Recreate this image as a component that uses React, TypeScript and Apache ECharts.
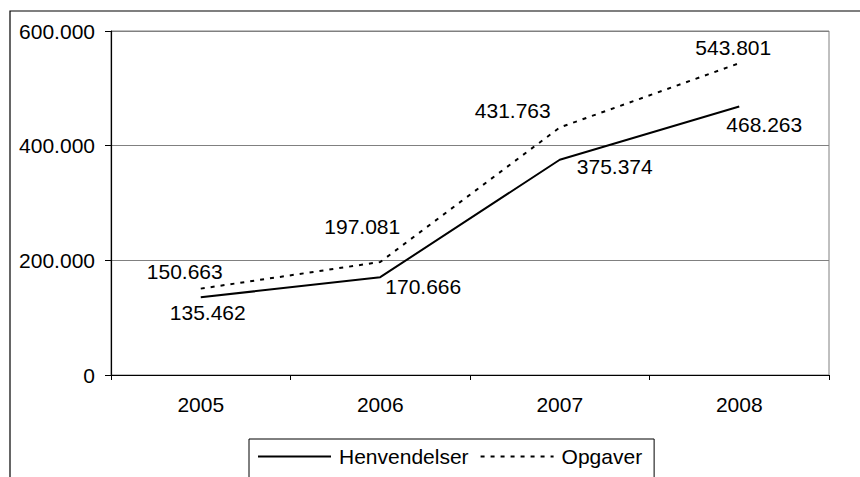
import React, { useEffect, useRef } from "react";
import * as echarts from "echarts";

const years = ["2005", "2006", "2007", "2008"];
const henvendelser = [135462, 170666, 375374, 468263];
const opgaver = [150663, 197081, 431763, 543801];
const yTicks = [0, 200000, 400000, 600000];
// label offsets (px) relative to each point
const henvOffsets = [[7, 15], [43, 9], [55, 7], [25, 18]];
const opgOffsets = [[-16, -17], [-18, -36], [-47, -17], [-6, -16]];

const FONT = "'Liberation Sans', Arial, sans-serif";
const FS = 21;

function fmt(v: number): string {
  const s = Math.round(v).toString();
  return s.replace(/\B(?=(\d{3})+(?!\d))/g, ".");
}

export default function App() {
  const ref = useRef<HTMLDivElement>(null);
  useEffect(() => {
    if (!ref.current) return;
    const chart = echarts.init(ref.current, null, { renderer: "svg" });
    const mkData = (vals: number[], offs: number[][]) =>
      vals.map((v, i) => ({
        value: v,
        label: {
          show: true,
          position: "inside",
          offset: offs[i],
          formatter: () => fmt(v),
          color: "#000",
          fontFamily: FONT,
          fontSize: FS,
        },
      }));
    chart.setOption({
      animation: false,
      backgroundColor: "#fff",
      textStyle: { fontFamily: FONT, color: "#000" },
      graphic: [
        {
          type: "rect",
          shape: { x: 10, y: 11, width: 900, height: 520 },
          style: { fill: "none", stroke: "#000", lineWidth: 1.2 },
          silent: true,
          z: -1,
        },
      ],
      grid: {
        left: 111,
        top: 31,
        right: 31,
        bottom: 102,
        show: true,
        borderColor: "#808080",
        borderWidth: 1,
        backgroundColor: "transparent",
      },
      legend: {
        left: 249,
        top: 439,
        orient: "horizontal",
        borderColor: "#000",
        borderWidth: 1,
        padding: [7, 12, 30, 8],
        itemWidth: 73,
        itemHeight: 14,
        itemGap: 11,
        textStyle: {
          fontFamily: FONT,
          fontSize: FS,
          color: "#000",
          padding: [0, 0, 0, 3],
        },
        data: ["Henvendelser", "Opgaver"],
      },
      xAxis: {
        type: "category",
        data: years,
        boundaryGap: true,
        axisLine: { lineStyle: { color: "#000", width: 1.2 } },
        axisTick: { show: true, length: 5, inside: false, alignWithLabel: false, lineStyle: { color: "#000" } },
        axisLabel: { fontFamily: FONT, fontSize: FS, color: "#000", margin: 19 },
        splitLine: { show: false },
      },
      yAxis: {
        type: "value",
        min: yTicks[0],
        max: yTicks[yTicks.length - 1],
        interval: yTicks[1] - yTicks[0],
        axisLine: { show: true, lineStyle: { color: "#000", width: 1.2 } },
        axisTick: { show: true, length: 6, lineStyle: { color: "#000" } },
        axisLabel: {
          fontFamily: FONT,
          fontSize: FS,
          color: "#000",
          margin: 16,
          formatter: (v: number) => fmt(v),
        },
        splitLine: { show: true, lineStyle: { color: "#808080", width: 1 } },
      },
      series: [
        {
          name: "Henvendelser",
          type: "line",
          data: mkData(henvendelser, henvOffsets),
          symbol: "circle",
          symbolSize: 1,
          showSymbol: true,
          itemStyle: { color: "rgba(0,0,0,0)" },
          lineStyle: { color: "#000", width: 2, type: "solid" },
          z: 3,
        },
        {
          name: "Opgaver",
          type: "line",
          data: mkData(opgaver, opgOffsets),
          symbol: "circle",
          symbolSize: 1,
          showSymbol: true,
          itemStyle: { color: "rgba(0,0,0,0)" },
          lineStyle: { color: "#000", width: 2, type: [4, 6] },
          z: 3,
        },
      ],
    });
    return () => chart.dispose();
  }, []);
  return (
    <div
      ref={ref}
      style={{ position: "absolute", left: 0, top: 0, width: 860, height: 477 }}
    />
  );
}
